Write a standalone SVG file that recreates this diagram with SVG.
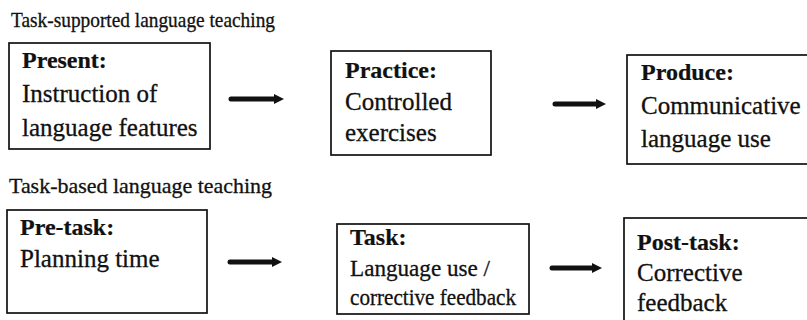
<svg xmlns="http://www.w3.org/2000/svg" width="807" height="320" viewBox="0 0 807 320">
  <style>
    text { font-family: "Liberation Serif", "Times New Roman", serif; fill: #111; stroke: #111; stroke-width: 0.3; }
    .title { font-size: 21px; }
    .head { font-size: 24px; font-weight: bold; stroke-width: 0.2; }
    .body { font-size: 25px; }
    .box { fill: #fff; stroke: #111; stroke-width: 1.7; }
    .conn { stroke: #111; stroke-width: 5; fill: none; stroke-linecap: round; marker-end: url(#ah); }
  </style>
  <defs>
    <marker id="ah" viewBox="0 0 10 10" refX="2" refY="5" markerWidth="2" markerHeight="2.2" orient="auto" markerUnits="strokeWidth">
      <path d="M0,0 L10,5 L0,10 z" fill="#111"/>
    </marker>
  </defs>
  <rect width="807" height="320" fill="#fff"/>

  <text class="title" x="11" y="27" textLength="264" lengthAdjust="spacingAndGlyphs">Task-supported language teaching</text>
  <text class="title" x="9" y="193" style="font-size:22px" textLength="263" lengthAdjust="spacingAndGlyphs">Task-based language teaching</text>

  <g id="present">
    <rect class="box" x="9" y="43" width="201" height="106"/>
    <text class="head" x="22" y="68">Present:</text>
    <text class="body" x="22" y="102">Instruction of</text>
    <text class="body" x="22" y="136">language features</text>
  </g>
  <g id="practice">
    <rect class="box" x="331" y="51" width="160" height="104"/>
    <text class="head" x="345" y="78">Practice:</text>
    <text class="body" x="345" y="110">Controlled</text>
    <text class="body" x="345" y="141">exercises</text>
  </g>
  <g id="produce">
    <rect class="box" x="627" y="55" width="190" height="109"/>
    <text class="head" x="641" y="80">Produce:</text>
    <text class="body" x="641" y="114">Communicative</text>
    <text class="body" x="641" y="147">language use</text>
  </g>

  <g id="pretask">
    <rect class="box" x="7" y="210" width="200" height="103"/>
    <text class="head" x="20" y="235">Pre-task:</text>
    <text class="body" x="20" y="267">Planning time</text>
  </g>
  <g id="task">
    <rect class="box" x="337" y="224" width="192" height="90"/>
    <text class="head" x="350" y="245">Task:</text>
    <text class="body" x="350" y="276" style="font-size:24px" textLength="140" lengthAdjust="spacingAndGlyphs">Language use /</text>
    <text class="body" x="350" y="305" style="font-size:24px" textLength="166" lengthAdjust="spacingAndGlyphs">corrective feedback</text>
  </g>
  <g id="posttask">
    <rect class="box" x="624" y="218" width="200" height="120"/>
    <text class="head" x="637" y="250">Post-task:</text>
    <text class="body" x="637" y="281">Corrective</text>
    <text class="body" x="637" y="311">feedback</text>
  </g>

  <g id="connectors">
    <line class="conn" x1="231" y1="99" x2="276" y2="99"/>
    <line class="conn" x1="555" y1="104" x2="598" y2="104"/>
    <line class="conn" x1="230" y1="262" x2="274" y2="262"/>
    <line class="conn" x1="552" y1="268" x2="594" y2="268"/>
  </g>
</svg>
